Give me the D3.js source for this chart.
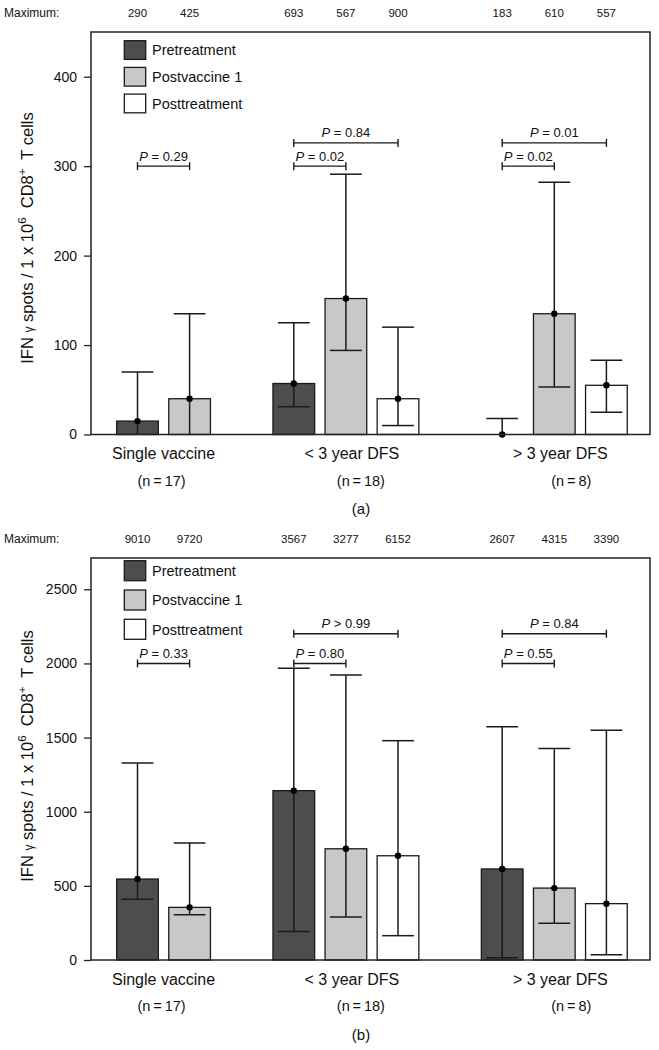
<!DOCTYPE html>
<html>
<head>
<meta charset="utf-8">
<script src="https://cdn.jsdelivr.net/npm/d3@7"></script>
<style>
  html, body { margin: 0; padding: 0; background: #fff; }
  svg { display: block; font-family: "Liberation Sans", Arial, Helvetica, sans-serif; }
  text { fill: #111; }
</style>
</head>
<body>
<svg id="chart" width="659" height="1050"></svg>
<script>
// ---------------- data ----------------
const categories = ["Single vaccine", "< 3 year DFS", "> 3 year DFS"];
const nLabels = ["(n\u2009=\u200917)", "(n\u2009=\u200918)", "(n\u2009=\u20098)"];
const series = ["Pretreatment", "Postvaccine 1", "Posttreatment"];
const seriesColors = ["#4d4d4d", "#c8c8c8", "#ffffff"];

// panel (a)
const medianA = [[15, 40, null], [57, 152, 40], [0, 135, 55]];
const upperA  = [[70, 135, null], [125, 291, 120], [18, 282, 83]];
const lowerA  = [[0, 0, null], [31, 94, 10], [0, 53, 25]];
const maxA    = [[290, 425, null], [693, 567, 900], [183, 610, 557]];
const ticksA  = [0, 100, 200, 300, 400];
const pA = [
  { group: 0, from: 0, to: 1, op: "=", value: "0.29", level: 300 },
  { group: 1, from: 0, to: 1, op: "=", value: "0.02", level: 300 },
  { group: 1, from: 0, to: 2, op: "=", value: "0.84", level: 326 },
  { group: 2, from: 0, to: 1, op: "=", value: "0.02", level: 300 },
  { group: 2, from: 0, to: 2, op: "=", value: "0.01", level: 326 }
];

// panel (b)
const medianB = [[546, 355, null], [1142, 750, 703], [614, 485, 380]];
const upperB  = [[1328, 789, null], [1967, 1922, 1479], [1573, 1427, 1549]];
const lowerB  = [[409, 305, null], [193, 290, 164], [16, 247, 36]];
const maxB    = [[9010, 9720, null], [3567, 3277, 6152], [2607, 4315, 3390]];
const ticksB  = [0, 500, 1000, 1500, 2000, 2500];
const pB = [
  { group: 0, from: 0, to: 1, op: "=", value: "0.33", level: 2000 },
  { group: 1, from: 0, to: 1, op: "=", value: "0.80", level: 2000 },
  { group: 1, from: 0, to: 2, op: ">", value: "0.99", level: 2200 },
  { group: 2, from: 0, to: 1, op: "=", value: "0.55", level: 2000 },
  { group: 2, from: 0, to: 2, op: "=", value: "0.84", level: 2200 }
];

// ---------------- layout ----------------
const groupSlots = [[0, 1, 2], [3, 4, 5], [7, 8, 9]];
const left = 91, right = 650;
const x = d3.scaleLinear().domain([0, 9]).range([137.5, 606.4]);
const pitch = x(1) - x(0);
const barW = pitch * 0.8;
const capW = pitch * 0.61;
const catDx = [0, 6, 6];
const nDx = [-2, 15, 17];

const svg = d3.select("#chart");

function drawPanel(cfg) {
  const g = svg.append("g");
  const y = d3.scaleLinear().domain([0, cfg.yMax]).range([cfg.bottom, cfg.top]);

  // y axis ticks & labels
  const axis = d3.axisLeft(y).tickValues(cfg.ticks).tickSize(7).tickPadding(7).tickFormat(d3.format("d"));
  const ax = g.append("g").attr("transform", `translate(${left},0)`).call(axis);
  ax.select(".domain").remove();
  ax.selectAll(".tick line").attr("stroke", "#222").attr("stroke-width", 1.3);
  ax.selectAll(".tick text").attr("font-size", 14).attr("fill", "#111")
    .attr("font-family", '"Liberation Sans", Arial, sans-serif');

  // y label
  const lab = g.append("text")
    .attr("transform", `translate(33,${cfg.labelY}) rotate(-90)`)
    .attr("text-anchor", "middle")
    .attr("font-size", 16.5)
    .style("white-space", "pre");
  lab.append("tspan").text("IFN ");
  lab.append("tspan").text("\u03b3").attr("font-size", 12);
  lab.append("tspan").text(" spots / 1 x 10");
  lab.append("tspan").text("6").attr("font-size", 11.5).attr("dy", -7);
  lab.append("tspan").text("  CD8").attr("dy", 7);
  lab.append("tspan").text("+").attr("font-size", 11.5).attr("dy", -7);
  lab.append("tspan").text("  T cells").attr("dy", 7);

  // Maximum row
  g.append("text").attr("x", 4).attr("y", cfg.maxY).attr("font-size", 12).text("Maximum:");
  cfg.max.forEach((row, gi) => row.forEach((v, si) => {
    if (v == null) return;
    g.append("text").attr("x", x(groupSlots[gi][si])).attr("y", cfg.maxY)
      .attr("text-anchor", "middle").attr("font-size", 11.5).text(v);
  }));

  // bars
  const bars = [];
  cfg.median.forEach((row, gi) => row.forEach((v, si) => {
    if (v == null) return;
    bars.push({ gi, si, v, lo: cfg.lower[gi][si], hi: cfg.upper[gi][si], cx: x(groupSlots[gi][si]) });
  }));

  g.selectAll("rect.bar").data(bars).join("rect")
    .attr("class", "bar")
    .attr("x", d => d.cx - barW / 2)
    .attr("width", barW)
    .attr("y", d => y(d.v))
    .attr("height", d => y(0) - y(d.v))
    .attr("fill", d => seriesColors[d.si])
    .attr("stroke", "#1a1a1a").attr("stroke-width", 1.3);

  // whiskers
  const wg = g.append("g").attr("stroke", "#1a1a1a").attr("stroke-width", 1.5);
  bars.forEach(d => {
    wg.append("line").attr("x1", d.cx).attr("x2", d.cx).attr("y1", y(d.lo)).attr("y2", y(d.hi));
    wg.append("line").attr("x1", d.cx - capW / 2).attr("x2", d.cx + capW / 2).attr("y1", y(d.hi)).attr("y2", y(d.hi));
    if (d.lo > 0)
      wg.append("line").attr("x1", d.cx - capW / 2).attr("x2", d.cx + capW / 2).attr("y1", y(d.lo)).attr("y2", y(d.lo));
  });
  g.selectAll("circle.med").data(bars).join("circle")
    .attr("class", "med")
    .attr("cx", d => d.cx).attr("cy", d => y(d.v)).attr("r", 3.2).attr("fill", "#000");

  // P brackets
  const pg = g.append("g");
  cfg.p.forEach(p => {
    const x1 = x(groupSlots[p.group][p.from]), x2 = x(groupSlots[p.group][p.to]);
    const yy = y(p.level);
    const s = pg.append("g").attr("stroke", "#1a1a1a").attr("stroke-width", 1.4);
    s.append("line").attr("x1", x1).attr("x2", x2).attr("y1", yy).attr("y2", yy);
    s.append("line").attr("x1", x1).attr("x2", x1).attr("y1", yy - 4).attr("y2", yy + 4);
    s.append("line").attr("x1", x2).attr("x2", x2).attr("y1", yy - 4).attr("y2", yy + 4);
    const t = pg.append("text").attr("x", (x1 + x2) / 2).attr("y", yy - 5.5)
      .attr("text-anchor", "middle").attr("font-size", 13).style("white-space", "pre");
    t.append("tspan").attr("font-style", "italic").text("P");
    t.append("tspan").text(` ${p.op} ${p.value}`);
  });

  // legend
  const lg = g.append("g");
  series.forEach((s, i) => {
    const ty = cfg.top + cfg.legTop + i * cfg.legPitch;
    lg.append("rect").attr("x", 124.3).attr("y", ty).attr("width", 21.4).attr("height", cfg.legH)
      .attr("fill", seriesColors[i]).attr("stroke", "#1a1a1a").attr("stroke-width", 1.3);
    lg.append("text").attr("x", 152).attr("y", ty + cfg.legH / 2).attr("dy", "0.36em")
      .attr("font-size", 14.5).text(s);
  });

  // box
  g.append("rect").attr("x", left).attr("y", cfg.top).attr("width", right - left)
    .attr("height", cfg.bottom - cfg.top).attr("fill", "none")
    .attr("stroke", "#222").attr("stroke-width", 1.5);

  // category labels
  categories.forEach((c, gi) => {
    const slots = groupSlots[gi].filter((s, si) => cfg.median[gi][si] != null);
    const cx = d3.mean(slots.map(s => x(s)));
    g.append("text").attr("x", cx + catDx[gi]).attr("y", cfg.bottom + 24.5)
      .attr("text-anchor", "middle").attr("font-size", 16).text(c);
    g.append("text").attr("x", cx + nDx[gi]).attr("y", cfg.bottom + 51)
      .attr("text-anchor", "middle").attr("font-size", 14.5).text(nLabels[gi]);
  });
  g.append("text").attr("x", 361).attr("y", cfg.bottom + 79.5)
    .attr("text-anchor", "middle").attr("font-size", 15).text(cfg.name);
}

drawPanel({ name: "(a)", top: 32, bottom: 434.5, yMax: 450, ticks: ticksA, median: medianA, upper: upperA,
  lower: lowerA, max: maxA, p: pA, maxY: 17, labelY: 238, legTop: 8.7, legPitch: 26.7, legH: 18.7 });
drawPanel({ name: "(b)", top: 558, bottom: 960, yMax: 2711, ticks: ticksB, median: medianB, upper: upperB,
  lower: lowerB, max: maxB, p: pB, maxY: 543, labelY: 756, legTop: 2.7, legPitch: 29.3, legH: 20 });
</script>
</body>
</html>
